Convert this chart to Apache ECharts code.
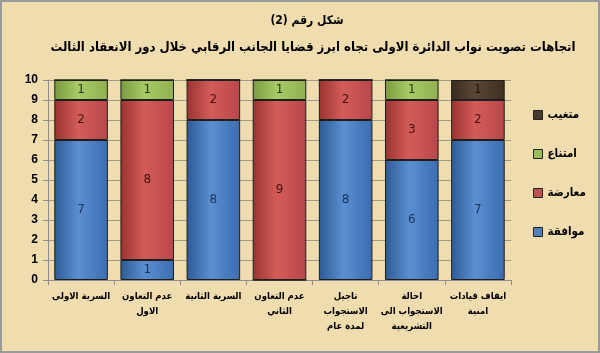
<!DOCTYPE html>
<html><head><meta charset="utf-8">
<script src="https://cdn.jsdelivr.net/npm/echarts@6/dist/echarts.min.js"></script>
<style>html,body{margin:0;padding:0;background:#efdcaf}#c{width:600px;height:353px}</style>
</head><body><div id="c"></div>
<script>
const categories = ['السرية الاولى','عدم التعاون\nالاول','السرية الثانية','عدم التعاون\nالثاني','تاجيل\nالاستجواب\nلمدة عام','احالة\nالاستجواب الى\nالتشريعية','ايقاف قيادات\nامنية'];
const approve = [7,1,8,0,8,6,7];      // موافقة
const oppose  = [2,8,2,9,2,3,2];      // معارضة
const abstain = [1,1,0,1,0,1,0];      // امتناع
const absent  = [0,0,0,0,0,0,1];      // متغيب
const yTicks = [0,1,2,3,4,5,6,7,8,9,10];
const titleText = 'شكل رقم (2)';
const subtitleText = 'اتجاهات تصويت نواب الدائرة الاولى تجاه ابرز قضايا الجانب الرقابي خلال دور الانعقاد الثالث';
const AR = '"DejaVu Sans Condensed", "DejaVu Sans"';

const chart = echarts.init(document.getElementById('c'));
const grad = (a,b,c) => new echarts.graphic.LinearGradient(0,0,1,0,[{offset:0,color:a},{offset:0.45,color:b},{offset:1,color:c}]);
const mk = (name, data, fill, labelColor) => ({
  name, type:'bar', stack:'s', data, barCategoryGap:'19%',
  itemStyle:{color:fill, borderColor:'#1e1e1e', borderWidth:1},
  label:{show:true, position:'inside', color:labelColor, fontSize:12, fontFamily:'DejaVu Sans',
    formatter:p=>p.value?String(p.value):''},
  emphasis:{disabled:true}
});
chart.setOption({
  backgroundColor:'#efdcaf',
  animation:false,
  title:[
    {text:titleText, left:302, top:10, textAlign:'center', textStyle:{fontFamily:AR, fontSize:12, fontWeight:'bold', color:'#000'}},
    {text:subtitleText, left:308, top:36, textAlign:'center', textStyle:{fontFamily:AR, fontSize:13, fontWeight:'bold', color:'#000'}}
  ],
  legend:{
    orient:'vertical', left:528, top:104, itemGap:27, itemWidth:9, itemHeight:9, icon:'rect',
    data:[
      {name:'متغيب', itemStyle:{color:'#4a3a2c', borderColor:'#222', borderWidth:1}},
      {name:'امتناع', itemStyle:{color:'#9bbb59', borderColor:'#222', borderWidth:1}},
      {name:'معارضة', itemStyle:{color:'#c0504d', borderColor:'#222', borderWidth:1}},
      {name:'موافقة', itemStyle:{color:'#4f81bd', borderColor:'#222', borderWidth:1}}
    ],
    textStyle:{fontFamily:AR, fontSize:11.5, fontWeight:'bold', color:'#000'}
  },
  grid:{left:48, right:89, top:80, bottom:73},
  xAxis:{type:'category', data:categories,
    axisLine:{lineStyle:{color:'#8c8c8c'}}, axisTick:{show:true, lineStyle:{color:'#8c8c8c'}},
    axisLabel:{fontFamily:AR, fontSize:9.5, fontWeight:'bold', color:'#000', lineHeight:15, interval:0, margin:9},
    splitLine:{show:false}},
  yAxis:{type:'value', min:yTicks[0], max:yTicks[yTicks.length-1], interval:1,
    axisLine:{show:true, lineStyle:{color:'#8c8c8c'}}, axisTick:{show:true, lineStyle:{color:'#8c8c8c'}},
    axisLabel:{fontFamily:'Liberation Sans', fontSize:12, fontWeight:'bold', color:'#000', margin:10},
    splitLine:{lineStyle:{color:'#a09a88', width:1}}},
  series:[
    mk('موافقة', approve, grad('#2d5a94','#5a8fd0','#3b6db0'), '#1a3560'),
    mk('معارضة', oppose, grad('#9a3330','#d35c58','#b8474a'), '#4a1010'),
    mk('امتناع', abstain, grad('#7a9a40','#a8cb66','#90b050'), '#2a3a10'),
    mk('متغيب', absent, grad('#3a2a1e','#5a4636','#3f2f22'), '#1a1208')
  ],
  graphic:[{type:'rect', shape:{x:1,y:1,width:598,height:351}, style:{fill:null, stroke:'#9a9a9a', lineWidth:2}, silent:true}]
});
</script></body></html>
